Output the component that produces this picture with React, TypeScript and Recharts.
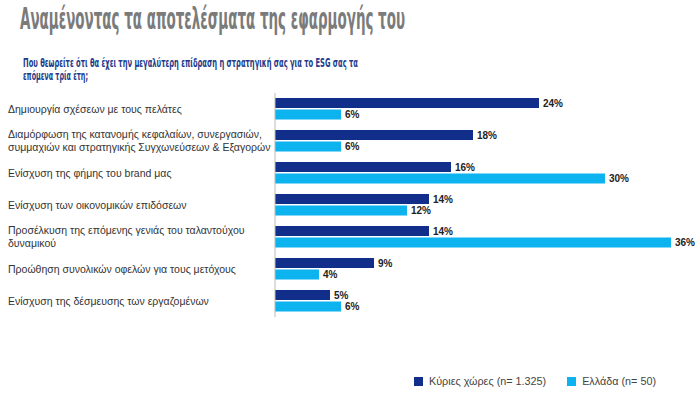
import React from "react";
import { BarChart, Bar, XAxis, YAxis, LabelList, Legend } from "recharts";

const categories = [
  "Δημιουργία σχέσεων με τους πελάτες",
  "Διαμόρφωση της κατανομής κεφαλαίων, συνεργασιών,\nσυμμαχιών και στρατηγικής Συγχωνεύσεων & Εξαγορών",
  "Ενίσχυση της φήμης του brand μας",
  "Ενίσχυση των οικονομικών επιδόσεων",
  "Προσέλκυση της επόμενης γενιάς του ταλαντούχου\nδυναμικού",
  "Προώθηση συνολικών οφελών για τους μετόχους",
  "Ενίσχυση της δέσμευσης των εργαζομένων",
];
const mainCountries = [24, 18, 16, 14, 14, 9, 5];
const greece = [6, 6, 30, 12, 36, 4, 6];
const seriesNames = ["Κύριες χώρες (n= 1.325)", "Ελλάδα (n= 50)"];
const colors = ["#112f8a", "#0db3ef"];

const data = categories.map((c, i) => ({ name: c, main: mainCountries[i], gr: greece[i] }));

const FONT = "'Liberation Sans', Arial, sans-serif";
const NARROW = "'Liberation Sans Narrow', 'DejaVu Sans Condensed', sans-serif";

const CatTick = (props: any) => {
  const { y, payload } = props;
  const lines = String(payload.value).split("\n");
  const lh = 13;
  const start = y - ((lines.length - 1) * lh) / 2;
  return (
    <text x={8} y={start} textAnchor="start" fontSize={10.5} fill="#333" fontFamily={FONT}>
      {lines.map((l, i) => (
        <tspan key={i} x={8} y={start + i * lh} dy="0.35em">
          {l}
        </tspan>
      ))}
    </text>
  );
};

const LegendContent = () => (
  <div style={{ display: "flex", fontFamily: FONT, fontSize: 10.8, color: "#444" }}>
    {seriesNames.map((n, i) => (
      <div key={n} style={{ display: "flex", alignItems: "center", marginRight: i === 0 ? 21 : 0 }}>
        <div style={{ width: 9, height: 9, background: colors[i], marginRight: 6 }} />
        <span>{n}</span>
      </div>
    ))}
  </div>
);

export default function App() {
  return (
    <div style={{ position: "absolute", left: 0, top: 0, width: 700, height: 397, background: "#fff", overflow: "hidden" }}>
      <svg width={700} height={90} style={{ position: "absolute", left: 0, top: 0 }}>
        <text
          x={20}
          y={29}
          fontSize={30.5}
          fontWeight="bold"
          fill="#7b7b7b"
          fontFamily={NARROW}
          textLength={385}
          lengthAdjust="spacingAndGlyphs"
        >
          Αναμένοντας τα αποτελέσματα της εφαρμογής του
        </text>
        <text
          x={23}
          y={67}
          fontSize={11.5}
          fontWeight="bold"
          fill="#1c3a8a"
          fontFamily={NARROW}
          textLength={335}
          lengthAdjust="spacingAndGlyphs"
        >
          Που θεωρείτε ότι θα έχει την μεγαλύτερη επίδραση η στρατηγική σας για το ESG σας τα
        </text>
        <text
          x={23}
          y={80}
          fontSize={11.5}
          fontWeight="bold"
          fill="#1c3a8a"
          fontFamily={NARROW}
          textLength={65}
          lengthAdjust="spacingAndGlyphs"
        >
          επόμενα τρία έτη;
        </text>
      </svg>
      <div style={{ position: "absolute", left: 0, top: 0 }}>
        <BarChart
          width={700}
          height={397}
          data={data}
          layout="vertical"
          margin={{ top: 93, right: 7, bottom: 68, left: 0 }}
          barSize={10}
          barGap={1.5}
        >
          <XAxis type="number" domain={[0, 38]} hide />
          <YAxis
            type="category"
            dataKey="name"
            width={275}
            axisLine={{ stroke: "#bbbbbb" }}
            tickLine={false}
            tick={<CatTick />}
            interval={0}
          />
          <Legend
            content={<LegendContent />}
            wrapperStyle={{ position: "absolute", left: 414, top: 375, width: 270, bottom: "auto" }}
          />
          <Bar dataKey="main" name={seriesNames[0]} fill={colors[0]} isAnimationActive={false}>
            <LabelList
              dataKey="main"
              position="right"
              offset={4}
              formatter={(v: any) => `${v}%`}
              style={{ fontWeight: "bold", fontSize: 10, fill: "#222", fontFamily: FONT }}
            />
          </Bar>
          <Bar dataKey="gr" name={seriesNames[1]} fill={colors[1]} isAnimationActive={false}>
            <LabelList
              dataKey="gr"
              position="right"
              offset={4}
              formatter={(v: any) => `${v}%`}
              style={{ fontWeight: "bold", fontSize: 10, fill: "#222", fontFamily: FONT }}
            />
          </Bar>
        </BarChart>
      </div>
    </div>
  );
}
